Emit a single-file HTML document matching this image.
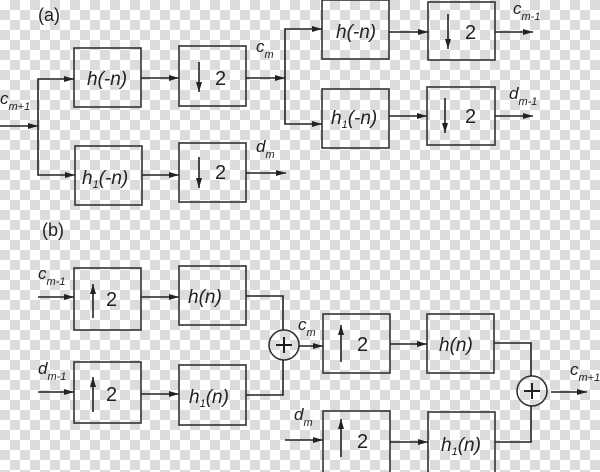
<!DOCTYPE html>
<html><head><style>
html,body{margin:0;padding:0;}
body{width:600px;height:472px;overflow:hidden;
background-color:#fff;
background-image:linear-gradient(45deg,#dcdcdc 25%,transparent 25%,transparent 75%,#dcdcdc 75%),linear-gradient(45deg,#dcdcdc 25%,transparent 25%,transparent 75%,#dcdcdc 75%);
background-size:20px 20px;background-position:0 0,10px 10px;}
svg{position:absolute;left:0;top:0;}
text{font-family:"Liberation Sans",sans-serif;fill:#222;}
</style></head><body>
<svg width="600" height="472" viewBox="0 0 600 472">
<defs><marker id="a" markerWidth="10" markerHeight="8" refX="10" refY="4" orient="auto" markerUnits="userSpaceOnUse"><path d="M0,1 L10,4 L0,7 z" fill="#222"/></marker></defs>
<g fill="none" stroke="#333" stroke-width="1.6">
<rect x="74" y="48" width="67" height="59"/>
<rect x="179" y="46" width="67" height="60"/>
<rect x="75" y="146" width="67" height="59"/>
<rect x="179" y="143" width="67" height="59"/>
<rect x="322" y="0" width="67" height="59"/>
<rect x="428" y="2" width="67" height="58"/>
<rect x="322" y="89" width="67" height="59"/>
<rect x="427" y="87" width="68" height="58"/>
<rect x="74" y="268" width="67" height="62"/>
<rect x="179" y="266" width="67" height="59"/>
<rect x="74" y="362" width="67" height="61"/>
<rect x="179" y="365" width="67" height="60"/>
<rect x="323" y="314" width="67" height="59"/>
<rect x="427" y="314" width="67" height="59"/>
<rect x="323" y="411" width="67" height="62"/>
<rect x="428" y="412" width="67" height="62"/>
<circle cx="284" cy="345" r="15"/>
<circle cx="532" cy="391" r="15"/>
</g>
<g fill="none" stroke="#222" stroke-width="1.6">
<path d="M0,126 H38" marker-end="url(#a)"/>
<path d="M38,126 V79 H74" marker-end="url(#a)"/>
<path d="M38,126 V175 H75" marker-end="url(#a)"/>
<path d="M141,78 H179" marker-end="url(#a)"/>
<path d="M142,175 H179" marker-end="url(#a)"/>
<path d="M246,78 H285" marker-end="url(#a)"/>
<path d="M246,173 H286" marker-end="url(#a)"/>
<path d="M285,78 V29 H322" marker-end="url(#a)"/>
<path d="M285,78 V124 H322" marker-end="url(#a)"/>
<path d="M389,32 H428" marker-end="url(#a)"/>
<path d="M389,116 H427" marker-end="url(#a)"/>
<path d="M495,32 H533" marker-end="url(#a)"/>
<path d="M495,116 H533" marker-end="url(#a)"/>
<path d="M199,62 V92" marker-end="url(#a)"/>
<path d="M199,157 V188" marker-end="url(#a)"/>
<path d="M448,14 V49" marker-end="url(#a)"/>
<path d="M445,98 V133" marker-end="url(#a)"/>
<path d="M38,297 H74" marker-end="url(#a)"/>
<path d="M141,297 H179" marker-end="url(#a)"/>
<path d="M38,392 H74" marker-end="url(#a)"/>
<path d="M141,394 H179" marker-end="url(#a)"/>
<path d="M246,296 H283 V330"/>
<path d="M246,395 H283 V360"/>
<path d="M299,346 H323" marker-end="url(#a)"/>
<path d="M390,344 H427" marker-end="url(#a)"/>
<path d="M494,343 H531 V376"/>
<path d="M390,442 H428" marker-end="url(#a)"/>
<path d="M495,442 H531 V406"/>
<path d="M551,392 H587" marker-end="url(#a)"/>
<path d="M285,440 H323" marker-end="url(#a)"/>
<path d="M93,318 V284" marker-end="url(#a)"/>
<path d="M93,412 V377" marker-end="url(#a)"/>
<path d="M341,362 V325" marker-end="url(#a)"/>
<path d="M341,457 V419" marker-end="url(#a)"/>
<path d="M276,345 H292 M284,337 V353" stroke-width="2"/>
<path d="M524,391 H540 M532,383 V399" stroke-width="2"/>
</g>
<g font-size="19">
<text x="38" y="21" font-size="18">(a)</text>
<text x="42" y="236" font-size="18">(b)</text>
<text x="87" y="85" font-style="italic">h(-n)</text>
<text x="336" y="38" font-style="italic">h(-n)</text>
<text x="82" y="184" font-style="italic">h<tspan font-size="11" dy="4">1</tspan><tspan dy="-4">(-n)</tspan></text>
<text x="331" y="124" font-style="italic">h<tspan font-size="11" dy="4">1</tspan><tspan dy="-4">(-n)</tspan></text>
<text x="215" y="85" font-size="20">2</text><text x="215" y="179" font-size="20">2</text>
<text x="465" y="39" font-size="20">2</text><text x="465" y="123" font-size="20">2</text>
<text x="106" y="306" font-size="20">2</text><text x="106" y="401" font-size="20">2</text>
<text x="357" y="351" font-size="20">2</text><text x="357" y="448" font-size="20">2</text>
<text x="188" y="303" font-style="italic">h(n)</text>
<text x="439" y="351" font-style="italic">h(n)</text>
<text x="189" y="403" font-style="italic">h<tspan font-size="11" dy="4">1</tspan><tspan dy="-4">(n)</tspan></text>
<text x="441" y="451" font-style="italic">h<tspan font-size="11" dy="4">1</tspan><tspan dy="-4">(n)</tspan></text>
</g>
<g font-size="17">
<text x="0" y="104" font-style="italic">c<tspan font-size="11" dy="6">m+1</tspan></text>
<text x="256" y="52" font-style="italic">c<tspan font-size="11" dy="6">m</tspan></text>
<text x="256" y="152" font-style="italic">d<tspan font-size="11" dy="6">m</tspan></text>
<text x="513" y="14" font-style="italic">c<tspan font-size="11" dy="6">m-1</tspan></text>
<text x="509" y="99" font-style="italic">d<tspan font-size="11" dy="6">m-1</tspan></text>
<text x="38" y="279" font-style="italic">c<tspan font-size="11" dy="6">m-1</tspan></text>
<text x="38" y="374" font-style="italic">d<tspan font-size="11" dy="6">m-1</tspan></text>
<text x="298" y="330" font-style="italic">c<tspan font-size="11" dy="6">m</tspan></text>
<text x="294" y="420" font-style="italic">d<tspan font-size="11" dy="6">m</tspan></text>
<text x="570" y="375" font-style="italic">c<tspan font-size="11" dy="6">m+1</tspan></text>
</g>
</svg>
</body></html>
